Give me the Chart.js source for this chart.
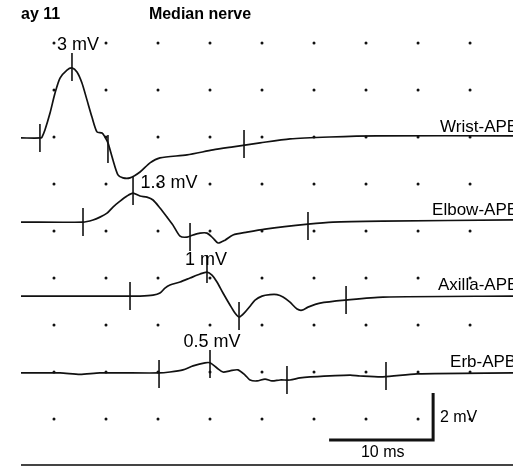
<!DOCTYPE html>
<html>
<head>
<meta charset="utf-8">
<title>Median nerve</title>
<script src="https://cdn.jsdelivr.net/npm/chart.js@4"></script>
<style>
    html, body { margin: 0; padding: 0; background: #fff; }
    #chart { display: block; }
</style>
</head>
<body>
<canvas id="chart" width="513" height="466"></canvas>
<script>
// Median nerve, sensory/motor recordings at 4 stimulation sites
// time in ms, amplitude in mV relative to each trace baseline

const traceNames = ['Wrist-APB', 'Elbow-APB', 'Axilla-APB', 'Erb-APB'];
const traceBaselines = [13.96, 10.38, 7.23, 3.96];
const peakAmps = [3, 1.3, 1, 0.5];

const wristTime = [1.83, 3.75, 3.85, 4.13, 4.62, 5.10, 5.58, 6.25, 6.73, 7.21, 7.69, 8.17, 8.65, 9.13, 9.62, 9.90, 10.19, 10.67, 11.15, 11.63, 12.31, 13.27, 14.23, 15.19, 17.79, 20.29, 22.21, 24.81, 27.70, 31.50, 36.00, 49.13];
const wristAmp = [0, 0, 0.04, 0.34, 1.06, 1.91, 2.55, 2.89, 2.98, 2.81, 2.34, 1.62, 0.89, 0.26, 0.21, 0.04, -0.21, -0.94, -1.57, -1.70, -1.70, -1.45, -1.06, -0.85, -0.72, -0.51, -0.38, -0.21, -0.04, 0.04, 0.09, 0.09];

const elbowTime = [1.83, 7.79, 8.75, 9.42, 10.10, 10.67, 11.35, 12.02, 12.60, 13.27, 13.94, 14.52, 15.19, 15.87, 16.44, 17.12, 17.79, 18.37, 19.04, 19.71, 20.29, 20.77, 21.44, 22.21, 23.56, 25.29, 29.42, 31.83, 36.63, 49.13];
const elbowAmp = [0, 0, 0.09, 0.21, 0.38, 0.64, 0.89, 1.11, 1.23, 1.11, 1.06, 0.94, 0.60, 0.21, -0.13, -0.60, -0.64, -0.55, -0.47, -0.47, -0.68, -0.89, -0.77, -0.55, -0.43, -0.30, -0.09, 0, 0.04, 0.09];

const axillaTime = [1.83, 12.31, 13.27, 14.52, 15.19, 15.67, 16.15, 17.12, 18.08, 19.04, 19.71, 20.19, 20.67, 21.25, 21.92, 22.40, 22.79, 23.37, 23.85, 24.33, 25.00, 25.77, 26.44, 27.02, 27.69, 28.37, 28.85, 29.42, 30.58, 33.08, 36.63, 49.13];
const axillaAmp = [0, 0, 0, 0.04, 0.13, 0.34, 0.47, 0.60, 0.77, 0.94, 1.02, 0.89, 0.60, 0.13, -0.38, -0.72, -0.89, -0.68, -0.43, -0.17, 0, 0.06, 0.06, -0.04, -0.26, -0.55, -0.60, -0.47, -0.30, -0.17, -0.04, 0];

const erbTime = [1.83, 5.58, 7.50, 9.42, 15.10, 16.15, 17.40, 18.37, 19.52, 20.00, 20.67, 21.25, 21.92, 22.69, 23.37, 23.85, 24.52, 25.29, 25.96, 26.73, 27.69, 28.65, 29.62, 33.46, 34.42, 36.63, 39.90, 49.13];
const erbAmp = [0, 0, -0.06, 0, 0, 0.04, 0.13, 0.30, 0.43, 0.43, 0.21, 0.04, 0.09, 0.13, -0.09, -0.30, -0.34, -0.26, -0.34, -0.30, -0.30, -0.21, -0.17, -0.09, -0.13, -0.17, -0.04, 0];

// latency cursors (time, amplitude at cursor centre)
const wristMarkerTime = [3.65, 6.73, 10.19, 23.27];
const wristMarkerAmp = [0, 3.02, -0.47, -0.26];
const elbowMarkerTime = [7.79, 12.60, 18.08, 29.42];
const elbowMarkerAmp = [0, 1.32, -0.64, -0.17];
const axillaMarkerTime = [12.31, 19.71, 22.79, 33.08];
const axillaMarkerAmp = [0, 1.15, -0.85, -0.17];
const erbMarkerTime = [15.10, 20.00, 27.40, 36.92];
const erbMarkerAmp = [-0.04, 0.38, -0.30, -0.13];

// calibration bar
const scaleBarMs = 10;
const scaleBarMv = 2;

// grid dot spacing (ms, mV)
const gridStepMs = 5;
const gridStepMv = 2;

// where the text sits, in chart units (ms, mV)
const peakLabelPos = [[7.31, 17.91], [16.06, 12.04], [19.62, 8.77], [20.19, 5.28]];
const nameLabelPos = [[42.12, 14.43], [41.35, 10.89], [41.92, 7.70], [43.08, 4.43]];
const scaleBarCorner = [41.45, 1.11];

const traceTimes = [wristTime, elbowTime, axillaTime, erbTime];
const traceAmps = [wristAmp, elbowAmp, axillaAmp, erbAmp];
const markerTimes = [wristMarkerTime, elbowMarkerTime, axillaMarkerTime, erbMarkerTime];
const markerAmps = [wristMarkerAmp, elbowMarkerAmp, axillaMarkerAmp, erbMarkerAmp];

function buildPoints(times, amps, base) {
    return times.map((t, i) => ({ x: t, y: amps[i] + base }));
}

function buildDatasets() {
    const datasets = [];

    // waveforms
    traceNames.forEach((name, i) => {
        datasets.push({
            label: name,
            data: buildPoints(traceTimes[i], traceAmps[i], traceBaselines[i]),
            borderColor: '#111',
            borderWidth: 1.7,
            pointRadius: 0,
            tension: 0.25,
            fill: false
        });
    });

    // vertical cursors drawn as rotated line points
    traceNames.forEach((name, i) => {
        datasets.push({
            label: name + ' cursors',
            data: buildPoints(markerTimes[i], markerAmps[i], traceBaselines[i]),
            showLine: false,
            pointStyle: 'line',
            rotation: 90,
            pointRadius: 14,
            pointBorderWidth: 1.6,
            pointBorderColor: '#111',
            borderColor: '#111'
        });
    });

    // 10 ms / 2 mV bar
    const cx = scaleBarCorner[0];
    const cy = scaleBarCorner[1];
    datasets.push({
        label: 'calibration',
        data: [
            { x: cx - scaleBarMs, y: cy },
            { x: cx, y: cy },
            { x: cx, y: cy + scaleBarMv }
        ],
        borderColor: '#111',
        borderWidth: 3,
        pointRadius: 0,
        tension: 0
    });

    return datasets;
}

// Grid dots at every step crossing, bottom rule and all the text
const overlayPlugin = {
    id: 'overlay',
    beforeDatasetsDraw(chart) {
        const ctx = chart.ctx;
        const xs = chart.scales.x;
        const ys = chart.scales.y;

        ctx.save();
        // bottom rule
        ctx.strokeStyle = '#444';
        ctx.lineWidth = 2;
        ctx.beginPath();
        ctx.moveTo(xs.getPixelForValue(1.83), ys.getPixelForValue(0.04));
        ctx.lineTo(xs.getPixelForValue(xs.max), ys.getPixelForValue(0.04));
        ctx.stroke();

        ctx.fillStyle = '#111';
        for (let xv = gridStepMs; xv < xs.max; xv += gridStepMs) {
            for (let yv = gridStepMv; yv < ys.max; yv += gridStepMv) {
                ctx.beginPath();
                ctx.arc(xs.getPixelForValue(xv), ys.getPixelForValue(yv), 1.5, 0, Math.PI * 2);
                ctx.fill();
            }
        }
        ctx.restore();
    },
    afterDatasetsDraw(chart) {
        const ctx = chart.ctx;
        const xs = chart.scales.x;
        const ys = chart.scales.y;
        const px = v => xs.getPixelForValue(v);
        const py = v => ys.getPixelForValue(v);

        ctx.save();
        ctx.fillStyle = '#000';
        ctx.textBaseline = 'middle';

        // headings
        ctx.font = 'bold 16px "Liberation Sans", Arial, sans-serif';
        ctx.textAlign = 'left';
        ctx.fillText('ay 11', px(1.83), py(19.23));
        ctx.textAlign = 'center';
        ctx.fillText('Median nerve', px(19.04), py(19.23));

        // peak amplitudes
        ctx.font = '18px "Liberation Sans", Arial, sans-serif';
        peakAmps.forEach((amp, i) => {
            ctx.fillText(amp + ' mV', px(peakLabelPos[i][0]), py(peakLabelPos[i][1]));
        });

        // site names
        ctx.font = '17px "Liberation Sans", Arial, sans-serif';
        ctx.textAlign = 'left';
        traceNames.forEach((name, i) => {
            ctx.fillText(name, px(nameLabelPos[i][0]), py(nameLabelPos[i][1]));
        });

        // calibration text
        ctx.font = '16px "Liberation Sans", Arial, sans-serif';
        ctx.fillText(scaleBarMv + ' mV', px(42.1), py(2.04));
        ctx.textAlign = 'center';
        ctx.fillText(scaleBarMs + ' ms', px(36.6), py(0.55));
        ctx.restore();
    }
};

function initializeChart() {
    const canvas = document.getElementById('chart');
    new Chart(canvas, {
        type: 'line',
        data: { datasets: buildDatasets() },
        options: {
            responsive: false,
            animation: false,
            devicePixelRatio: 1,
            layout: { padding: 0, autoPadding: false },
            plugins: {
                legend: { display: false },
                tooltip: { enabled: false }
            },
            scales: {
                x: {
                    type: 'linear',
                    min: -0.19,
                    max: 49.13,
                    display: false
                },
                y: {
                    type: 'linear',
                    min: 0,
                    max: 19.83,
                    display: false
                }
            }
        },
        plugins: [overlayPlugin]
    });
}

document.addEventListener('DOMContentLoaded', function() {
    initializeChart();
});
</script>
</body>
</html>
